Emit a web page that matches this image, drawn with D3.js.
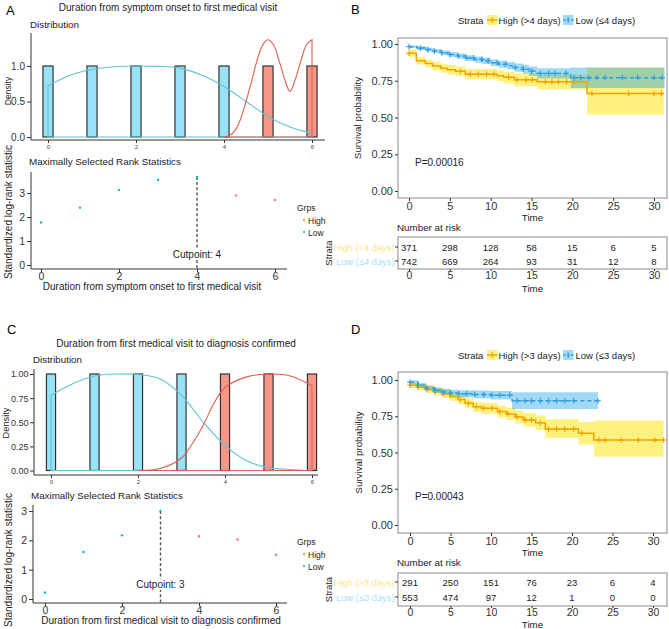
<!DOCTYPE html>
<html><head><meta charset="utf-8">
<script src="https://cdn.jsdelivr.net/npm/d3@7"></script>
<style>body{margin:0;background:#fff}svg{display:block;font-family:"Liberation Sans",Arial,Helvetica,sans-serif}</style>
</head><body><svg id="c" width="669" height="629"></svg>
<script>
// ---------------- DATA ----------------
const durCats = [0,1,2,3,4,5,6];
const distTickX = [0,2,4,6];
// Panel A distribution
const distA_bars = [1,1,1,1,1,1,1];
const distA_grp = ["Low","Low","Low","Low","Low","High","High"];
const densA_low_x = [0,0.5,1,1.5,2,2.5,3,3.5,4,4.5,5,5.5,6];
const densA_low_y = [0.72,0.87,0.95,0.99,1.0,0.995,0.97,0.87,0.71,0.5,0.29,0.14,0.05];
const densA_high_x = [4,4.125,4.25,4.375,4.5,4.625,4.75,4.875,5,5.125,5.25,5.375,5.5,5.625,5.75,5.875,6];
const densA_high_y = [0,0.02,0.09,0.25,0.5,0.78,1.08,1.29,1.37,1.3,1.08,0.82,0.64,0.82,1.08,1.3,1.37];
const distA_yTicks = [0,0.5,1.0];
const distA_yLabels = ["0.0","0.5","1.0"];
// Panel A rank statistics
const rankA_y = [1.77,2.39,3.12,3.55,3.67,2.9,2.71];
const rankA_grp = ["Low","Low","Low","Low","Low","High","High"];
const rankA_cut = 4;
const rankTicksY = [0,1,2,3];
// Panel C distribution
const distC_bars = [1,1,1,1,1,1,1];
const distC_grp = ["Low","Low","Low","Low","High","High","High"];
const densC_low_x = [0,0.5,1,1.5,2,2.5,3,3.5,4,4.5,5,5.5,6];
const densC_low_y = [0.78,0.9,0.98,1.0,0.995,0.95,0.78,0.5,0.26,0.1,0.03,0.01,0.0];
const densC_high_x = [2,2.5,3,3.25,3.5,3.75,4,4.5,5,5.5,6];
const densC_high_y = [0.0,0.02,0.13,0.28,0.47,0.7,0.86,0.97,1.0,0.98,0.88];
const distC_yTicks = [0,0.25,0.5,0.75,1];
const distC_yLabels = ["0.00","0.25","0.50","0.75","1.00"];
// Panel C rank statistics
const rankC_y = [0.22,1.6,2.17,3.0,2.14,2.03,1.51];
const rankC_grp = ["Low","Low","Low","Low","High","High","High"];
const rankC_cut = 3;
// KM common
const kmTicksX = [0,5,10,15,20,25,30];
const kmTicksY = [0,0.25,0.5,0.75,1];
const kmTickLabelsY = ["0.00","0.25","0.50","0.75","1.00"];
// Panel B
const strataB = ["High (>4 days)","Low (\u22644 days)"];
const kmB_high_t = [0,0.9,2.0,2.9,3.9,4.7,5.7,6.9,10.8,11.6,12.9,15.7,21.8];
const kmB_high_s = [0.937,0.886,0.868,0.85,0.835,0.825,0.814,0.795,0.784,0.773,0.757,0.743,0.663];
const kmB_high_lo = [0.91,0.86,0.84,0.82,0.805,0.792,0.78,0.76,0.746,0.732,0.713,0.69,0.52];
const kmB_high_hi = [0.965,0.912,0.895,0.88,0.865,0.857,0.847,0.83,0.822,0.812,0.80,0.792,0.84];
const kmB_high_end = 31.2;
const kmB_high_cens = [0,6.3,7.5,8.5,9.5,10.4,12.2,13.2,14.3,15.1,16.7,17.5,18.3,19.3,20.2,22.4,26.9,30.0,30.9];
const kmB_low_t = [0,1,2,3,4,5,6,7,8,9,10,11,12,13,14,14.7,15.7,19.8];
const kmB_low_s = [0.982,0.972,0.962,0.952,0.94,0.928,0.918,0.905,0.895,0.885,0.872,0.862,0.852,0.84,0.828,0.815,0.80,0.771];
const kmB_low_lo = [0.972,0.96,0.949,0.938,0.925,0.912,0.9,0.886,0.875,0.864,0.85,0.838,0.826,0.812,0.798,0.783,0.765,0.70];
const kmB_low_hi = [0.992,0.984,0.975,0.966,0.955,0.944,0.935,0.924,0.915,0.906,0.894,0.886,0.878,0.868,0.858,0.847,0.835,0.84];
const kmB_low_end = 31.3;
const kmB_low_cens = [0,1.4,2.3,3.1,4.0,5.0,6.0,7.0,7.9,8.9,9.7,10.8,11.8,13.0,14.0,15.0,16.1,17.1,17.9,19.2,20.2,21.0,22.0,23.0,24.0,26.1,28.0,30.0,31.0];
const pvalB = "P=0.00016";
const riskTimes = [0,5,10,15,20,25,30];
const riskB_high = [371,298,128,58,15,6,5];
const riskB_low = [742,669,264,93,31,12,8];
// Panel D
const strataD = ["High (>3 days)","Low (\u22643 days)"];
const kmD_high_t = [0,0.9,2,3,4,4.9,5.9,6.8,7.8,8.8,10.8,11.9,13.0,14.0,15.5,16.7,20.8,22.7];
const kmD_high_s = [0.965,0.95,0.935,0.92,0.905,0.885,0.865,0.84,0.816,0.805,0.782,0.766,0.745,0.725,0.705,0.662,0.632,0.586];
const kmD_high_lo = [0.945,0.928,0.91,0.893,0.876,0.855,0.833,0.806,0.78,0.767,0.742,0.724,0.70,0.678,0.655,0.60,0.555,0.47];
const kmD_high_hi = [0.985,0.972,0.96,0.947,0.934,0.915,0.897,0.874,0.852,0.843,0.822,0.808,0.79,0.772,0.755,0.73,0.71,0.72];
const kmD_high_end = 31.3;
const kmD_high_cens = [0,1.0,2.1,3.1,4.1,6.2,7.2,8.2,9.1,10.1,11.1,12.1,13.2,14.2,15.0,16.1,17.1,18.1,19.1,20.2,21.2,23.3,24.1,26.1,28.2,30.2,31.3];
const kmD_low_t = [0,1,2,3,4,5,6,8,10,12.6];
const kmD_low_s = [0.985,0.965,0.945,0.93,0.918,0.91,0.905,0.9,0.895,0.857];
const kmD_low_lo = [0.972,0.95,0.928,0.911,0.897,0.887,0.88,0.873,0.866,0.80];
const kmD_low_hi = [0.998,0.98,0.962,0.949,0.939,0.933,0.93,0.927,0.924,0.915];
const kmD_low_end = 23.2;
const kmD_low_cens = [0,1.0,2.0,3.1,4.1,5.0,6.0,7.0,8.0,9.1,10.1,11.1,12.3,13.2,14.2,15.0,16.1,17.1,18.1,19.1,20.2,23.2];
const pvalD = "P=0.00043";
const riskD_high = [291,250,151,76,23,6,4];
const riskD_low = [553,474,97,12,1,0,0];

// ---------------- STYLE ----------------
const C = {
  barLow:"#97E2F6", barHigh:"#F9968A", barStroke:"#333",
  densLow:"#5CC5D2", densHigh:"#DF5F4E",
  ptHigh:"#F8766D", ptLow:"#00BFC4",
  kmHigh:"#EEA500", kmLow:"#2E9FDF",
  bandHigh:"#FFE400", bandLow:"#1FA2E2",
  rowHigh:"#FBE58C", rowLow:"#ABDDF4",
  axis:"#333", txt:"#222"
};
const svg = d3.select("#c");
const fmtInt = d3.format("d");

function txt(g,x,y,s,o={}){
  const t=g.append("text").attr("x",x).attr("y",y).text(s)
    .attr("font-size",o.size||10).attr("fill",o.fill||C.txt)
    .attr("text-anchor",o.anchor||"start");
  if(o.rot) t.attr("transform",`rotate(-90,${x},${y})`);
  return t;
}
function line(g,x1,y1,x2,y2,o={}){
  return g.append("line").attr("x1",x1).attr("y1",y1).attr("x2",x2).attr("y2",y2)
    .attr("stroke",o.stroke||C.axis).attr("stroke-width",o.w||1)
    .attr("stroke-dasharray",o.dash||null);
}
function styleAxis(sel,size,color){
  sel.select(".domain").remove();
  sel.selectAll(".tick line").attr("stroke",C.axis);
  sel.selectAll(".tick text").attr("font-size",size).attr("fill",color||"#333")
    .attr("font-family","'Liberation Sans',Arial,sans-serif");
}

// ---------------- DISTRIBUTION PANEL ----------------
function distPanel(cfg){
  const g=svg.append("g");
  const x=d3.scaleLinear().domain([0,6]).range(cfg.xr);
  const y=d3.scaleLinear().domain([0,1]).range(cfg.yr);
  const bw=cfg.bw;
  g.selectAll("rect.bar").data(durCats).join("rect")
    .attr("x",d=>x(d-bw/2)).attr("width",x(bw)-x(0))
    .attr("y",(d,i)=>y(cfg.bars[i])).attr("height",(d,i)=>y(0)-y(cfg.bars[i]))
    .attr("fill",(d,i)=>cfg.grp[i]==="Low"?C.barLow:C.barHigh)
    .attr("stroke",C.barStroke).attr("stroke-width",1.2);
  const dl=(xs,ys,col)=>{
    const pts=xs.map((v,i)=>[v,ys[i]]);
    const curve=d3.line().x(d=>x(d[0])).y(d=>y(d[1])).curve(d3.curveCatmullRom)(pts);
    const x0=xs[0], x1=xs[xs.length-1];
    const d=`M${x(x0)},${y(0)}L${x(x0)},${y(ys[0])}`+curve.replace(/^M/,"L")+`L${x(x1)},${y(0)}Z`;
    g.append("path").attr("d",d).attr("fill","none").attr("stroke",col).attr("stroke-width",1.1);
  };
  dl(cfg.lowX,cfg.lowY,C.densLow);
  dl(cfg.highX,cfg.highY,C.densHigh);
  // axes
  line(g,cfg.ax,cfg.ayTop,cfg.ax,cfg.ayBot);
  line(g,cfg.ax,cfg.ayBot,cfg.axRight,cfg.ayBot);
  const ya=g.append("g").attr("transform",`translate(${cfg.ax},0)`)
    .call(d3.axisLeft(y).tickValues(cfg.yTicks).tickFormat((d,i)=>cfg.yLabels[i]).tickSize(4).tickPadding(cfg.yPad));
  styleAxis(ya,cfg.yTickSize);
  const xa=g.append("g").attr("transform",`translate(0,${cfg.ayBot})`)
    .call(d3.axisBottom(x).tickValues(distTickX).tickFormat(fmtInt).tickSize(3).tickPadding(2));
  styleAxis(xa,6,"#444");
  txt(g,cfg.titleX,cfg.titleY,cfg.title,{size:10,anchor:"middle"});
  txt(g,cfg.ax-1,cfg.subY,"Distribution",{size:9.8});
  txt(g,cfg.densX,cfg.densY,"Density",{size:cfg.densSize,anchor:"middle",rot:true});
  txt(g,cfg.letterX,cfg.letterY,cfg.letter,{size:13,fill:"#000"});
}

// ---------------- RANK PANEL ----------------
function rankPanel(cfg){
  const g=svg.append("g");
  const x=d3.scaleLinear().domain([0,6]).range(cfg.xr);
  const y=d3.scaleLinear().domain([0,3]).range(cfg.yr);
  line(g,cfg.ax,cfg.ayTop,cfg.ax,cfg.ayBot);
  line(g,cfg.ax,cfg.ayBot,cfg.axRight,cfg.ayBot);
  const ya=g.append("g").attr("transform",`translate(${cfg.ax},0)`)
    .call(d3.axisLeft(y).tickValues(rankTicksY).tickFormat(fmtInt).tickSize(4).tickPadding(2));
  styleAxis(ya,10.5);
  const xa=g.append("g").attr("transform",`translate(0,${cfg.ayBot})`)
    .call(d3.axisBottom(x).tickValues(distTickX).tickFormat(fmtInt).tickSize(3).tickPadding(0.5));
  styleAxis(xa,10.5);
  // cut line
  const cy=cfg.vals[durCats.indexOf(cfg.cut)];
  line(g,x(cfg.cut),y(cy),x(cfg.cut),cfg.ayBot,{dash:"3,2.2",w:1.4,stroke:"#555"});
  const tw=50;
  g.append("rect").attr("x",x(cfg.cut)-tw/2).attr("y",cfg.cutY-9).attr("width",tw).attr("height",11).attr("fill","#fff");
  txt(g,x(cfg.cut),cfg.cutY,"Cutpoint: "+cfg.cut,{size:10,anchor:"middle"});
  g.selectAll("circle.pt").data(durCats).join("circle")
    .attr("cx",d=>x(d)).attr("cy",(d,i)=>y(cfg.vals[i])).attr("r",1.2)
    .attr("fill",(d,i)=>cfg.grp[i]==="High"?C.ptHigh:C.ptLow);
  txt(g,cfg.ax-2,cfg.titleY,"Maximally Selected Rank Statistics",{size:9.8});
  txt(g,cfg.xlabX,cfg.xlabY,cfg.xlab,{size:10,anchor:"middle"});
  txt(g,12,cfg.ylabY,"Standardized log-rank statistic",{size:10,anchor:"middle",rot:true});
  // legend
  txt(g,297,cfg.legY,"Grps",{size:8.5});
  ["High","Low"].forEach((k,i)=>{
    g.append("circle").attr("cx",304).attr("cy",cfg.legY+9+i*12).attr("r",1.1).attr("fill",k==="High"?C.ptHigh:C.ptLow);
    txt(g,308,cfg.legY+12.5+i*12,k,{size:8.5});
  });
}

// ---------------- KM PANEL ----------------
function kmPanel(cfg){
  const g=svg.append("g");
  const x=d3.scaleLinear().domain([0,30]).range(cfg.xr);
  const y=d3.scaleLinear().domain([0,1]).range(cfg.yr);
  const [bx0,by0,bx1,by1]=cfg.box;
  const ser=cfg.series;
  ser.forEach(s=>{
    const n=s.t.length;
    const pts=s.t.map((t,i)=>({t,lo:s.lo[i],hi:s.hi[i]})).concat([{t:s.end,lo:s.lo[n-1],hi:s.hi[n-1]}]);
    g.append("path").datum(pts)
      .attr("d",d3.area().curve(d3.curveStepAfter).x(d=>x(d.t)).y0(d=>y(d.lo)).y1(d=>y(d.hi)))
      .attr("fill",s.band).attr("fill-opacity",s.bandOp);
  });
  ser.forEach(s=>{
    const n=s.t.length;
    const pts=s.t.map((t,i)=>[t,s.s[i]]).concat([[s.end,s.s[n-1]]]);
    g.append("path").datum(pts)
      .attr("d",d3.line().curve(d3.curveStepAfter).x(d=>x(d[0])).y(d=>y(d[1])))
      .attr("fill","none").attr("stroke",s.col).attr("stroke-width",1.5)
      .attr("stroke-dasharray",s.dash||null);
    s.cens.forEach(t=>{
      const i=Math.max(0,d3.bisectRight(s.t,t)-1);
      const cx=x(t), cy=y(s.s[i]);
      line(g,cx-2.8,cy,cx+2.8,cy,{stroke:s.col,w:1.2});
      line(g,cx,cy-2.8,cx,cy+2.8,{stroke:s.col,w:1.2});
    });
  });
  g.append("rect").attr("x",bx0).attr("y",by0).attr("width",bx1-bx0).attr("height",by1-by0)
    .attr("fill","none").attr("stroke","#8a8a8a").attr("stroke-width",1);
  const ya=g.append("g").attr("transform",`translate(${bx0},0)`)
    .call(d3.axisLeft(y).tickValues(kmTicksY).tickFormat((d,i)=>kmTickLabelsY[i]).tickSize(3).tickPadding(2));
  styleAxis(ya,11);
  const xa=g.append("g").attr("transform",`translate(0,${by1})`)
    .call(d3.axisBottom(x).tickValues(kmTicksX).tickFormat(fmtInt).tickSize(3).tickPadding(1));
  styleAxis(xa,11);
  txt(g,(bx0+bx1)/2,cfg.timeY,"Time",{size:9.8,anchor:"middle"});
  txt(g,cfg.survX,(by0+by1)/2,"Survival probability",{size:9.8,anchor:"middle",rot:true});
  txt(g,415,cfg.pY,cfg.pval,{size:10});
  txt(g,351,cfg.letterY,cfg.letter,{size:13,fill:"#000"});
  // legend
  const ly=cfg.legY;
  txt(g,458,ly+3.5,"Strata",{size:9.5});
  const keys=[{x:487,tx:498.5},{x:563,tx:575.5}];
  ser.forEach((s,i)=>{
    const k=keys[i];
    g.append("rect").attr("x",k.x).attr("y",ly-5).attr("width",10.5).attr("height",10).attr("fill",s.band).attr("fill-opacity",s.bandOp);
    line(g,k.x,ly,k.x+10.5,ly,{stroke:s.col,w:1.5,dash:s.dash?"2.5,1.5":null});
    line(g,k.x+5.25,ly-2.8,k.x+5.25,ly+2.8,{stroke:s.col,w:1.2});
    txt(g,k.tx,ly+3.5,s.name,{size:9.5});
  });
  // risk table
  const r=cfg.risk;
  txt(g,bx0-1,r.titleY,"Number at risk",{size:9.8});
  g.append("rect").attr("x",bx0).attr("y",r.y0).attr("width",bx1-bx0).attr("height",r.y1-r.y0)
    .attr("fill","none").attr("stroke","#8a8a8a");
  const rows=[r.high,r.low], rowY=r.rowY, rowCol=[C.rowHigh,C.rowLow];
  rows.forEach((vals,j)=>{
    riskTimes.forEach((t,i)=>txt(g,x(t),rowY[j]+3.5,vals[i],{size:9.5,anchor:"middle"}));
    line(g,bx0-3,rowY[j],bx0,rowY[j]);
    txt(g,bx0-3.5,rowY[j]+3.5,ser[j].name,{size:9.3,anchor:"end",fill:rowCol[j]});
  });
  const xa2=g.append("g").attr("transform",`translate(0,${r.y1})`)
    .call(d3.axisBottom(x).tickValues(kmTicksX).tickFormat(fmtInt).tickSize(2).tickPadding(0.5));
  styleAxis(xa2,10.5);
  txt(g,(bx0+bx1)/2,r.timeY,"Time",{size:9.8,anchor:"middle"});
  txt(g,332,(r.y0+r.y1)/2,"Strata",{size:9.5,anchor:"middle",rot:true});
}

// ---------------- BUILD ----------------
distPanel({xr:[48,312],yr:[137,66],bw:0.23,bars:distA_bars,grp:distA_grp,
  lowX:densA_low_x,lowY:densA_low_y,highX:densA_high_x,highY:densA_high_y,
  ax:31,ayTop:33,ayBot:140,axRight:325,yTicks:distA_yTicks,yLabels:distA_yLabels,yPad:2,yTickSize:10,
  title:"Duration from symptom onset to first medical visit",titleX:168,titleY:11,subY:28,densX:10.5,densY:91,densSize:8.5,
  letter:"A",letterX:6,letterY:15});
rankPanel({xr:[41,275],yr:[265,193],vals:rankA_y,grp:rankA_grp,cut:rankA_cut,
  ax:31,ayTop:172,ayBot:269,axRight:287,cutY:258,titleY:165,
  xlab:"Duration from symptom onset to first medical visit",xlabX:152,xlabY:290,ylabY:212,legY:211});
distPanel({xr:[51,312],yr:[470.5,374],bw:0.21,bars:distC_bars,grp:distC_grp,
  lowX:densC_low_x,lowY:densC_low_y,highX:densC_high_x,highY:densC_high_y,
  ax:34,ayTop:369,ayBot:475,axRight:318,yTicks:distC_yTicks,yLabels:distC_yLabels,yPad:1.5,yTickSize:9,
  title:"Duration from first medical visit to diagnosis confirmed",titleX:176,titleY:347,subY:363,densX:9,densY:423,densSize:9.3,
  letter:"C",letterX:7,letterY:334});
rankPanel({xr:[45,276],yr:[599,511],vals:rankC_y,grp:rankC_grp,cut:rankC_cut,
  ax:33,ayTop:505,ayBot:603,axRight:287,cutY:588,titleY:499,
  xlab:"Duration from first medical visit to diagnosis confirmed",xlabX:161,xlabY:624,ylabY:560,legY:545});

kmPanel({xr:[409,654],yr:[191,44],box:[398,38,667,198],timeY:221,survX:361,pY:166,pval:pvalB,letter:"B",letterY:14,legY:20,
  series:[
    {name:strataB[0],t:kmB_high_t,s:kmB_high_s,lo:kmB_high_lo,hi:kmB_high_hi,end:kmB_high_end,cens:kmB_high_cens,col:C.kmHigh,band:C.bandHigh,bandOp:0.5},
    {name:strataB[1],t:kmB_low_t,s:kmB_low_s,lo:kmB_low_lo,hi:kmB_low_hi,end:kmB_low_end,cens:kmB_low_cens,col:C.kmLow,band:C.bandLow,bandOp:0.42,dash:"4,3"}],
  risk:{titleY:231,y0:237,y1:269,rowY:[247,261],high:riskB_high,low:riskB_low,timeY:292}});
kmPanel({xr:[410,653],yr:[525,380],box:[398,372,667,533],timeY:556,survX:362,pY:500,pval:pvalD,letter:"D",letterY:334,legY:355,
  series:[
    {name:strataD[0],t:kmD_high_t,s:kmD_high_s,lo:kmD_high_lo,hi:kmD_high_hi,end:kmD_high_end,cens:kmD_high_cens,col:C.kmHigh,band:C.bandHigh,bandOp:0.5},
    {name:strataD[1],t:kmD_low_t,s:kmD_low_s,lo:kmD_low_lo,hi:kmD_low_hi,end:kmD_low_end,cens:kmD_low_cens,col:C.kmLow,band:C.bandLow,bandOp:0.42,dash:"4,3"}],
  risk:{titleY:566,y0:573,y1:606,rowY:[582,597],high:riskD_high,low:riskD_low,timeY:628}});
</script></body></html>
